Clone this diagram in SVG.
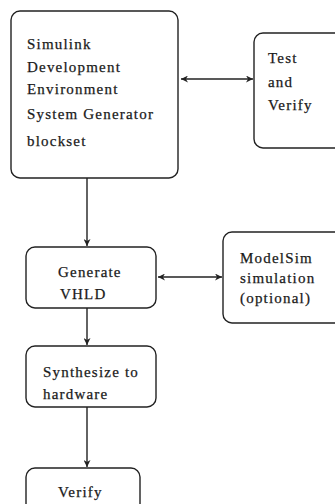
<svg xmlns="http://www.w3.org/2000/svg" width="335" height="504" viewBox="0 0 335 504">
<style>
.box{fill:#fff;stroke:#222;stroke-width:1.4}
.lbl{font-family:"Liberation Serif","Times New Roman",serif;font-size:15px;letter-spacing:1.2px;fill:#1a1a1a;stroke:#1a1a1a;stroke-width:0.25}
.conn{stroke:#222;stroke-width:1.4;fill:none}
</style>
<defs>
<marker id="ah" viewBox="0 0 10 10" refX="10" refY="5" markerWidth="8" markerHeight="7" markerUnits="userSpaceOnUse" orient="auto-start-reverse">
<path d="M0,0 L10,5 L0,10 L3,5 Z" fill="#222"/>
</marker>
</defs>
<rect width="335" height="504" fill="#fff"/>
<g id="connectors">
<line class="conn" x1="181" y1="79" x2="253" y2="79" marker-start="url(#ah)" marker-end="url(#ah)"/>
<line class="conn" x1="87" y1="178" x2="87" y2="246" marker-end="url(#ah)"/>
<line class="conn" x1="158" y1="277" x2="222" y2="277" marker-start="url(#ah)" marker-end="url(#ah)"/>
<line class="conn" x1="87" y1="308" x2="87" y2="345" marker-end="url(#ah)"/>
<line class="conn" x1="87" y1="407" x2="87" y2="467" marker-end="url(#ah)"/>
</g>
<g id="simulink">
<rect class="box" x="11" y="11" width="167" height="167" rx="9"/>
<text class="lbl" x="27" y="49">Simulink</text>
<text class="lbl" x="27" y="72">Development</text>
<text class="lbl" x="27" y="94">Environment</text>
<text class="lbl" x="27" y="119">System Generator</text>
<text class="lbl" x="27" y="146">blockset</text>
</g>
<g id="test-verify">
<rect class="box" x="254" y="33" width="90" height="115" rx="9"/>
<text class="lbl" x="268" y="63">Test</text>
<text class="lbl" x="268" y="87">and</text>
<text class="lbl" x="268" y="110">Verify</text>
</g>
<g id="generate">
<rect class="box" x="26" y="247" width="130" height="61" rx="9"/>
<text class="lbl" x="58" y="277">Generate</text>
<text class="lbl" x="60" y="299">VHLD</text>
</g>
<g id="modelsim">
<rect class="box" x="223" y="232" width="121" height="91" rx="9"/>
<text class="lbl" x="240" y="263">ModelSim</text>
<text class="lbl" x="240" y="283">simulation</text>
<text class="lbl" x="240" y="303">(optional)</text>
</g>
<g id="synthesize">
<rect class="box" x="26" y="346" width="130" height="61" rx="9"/>
<text class="lbl" x="43" y="377">Synthesize to</text>
<text class="lbl" x="43" y="399">hardware</text>
</g>
<g id="verify">
<rect class="box" x="26" y="468" width="114" height="50" rx="9"/>
<text class="lbl" x="58" y="497">Verify</text>
</g>
</svg>
